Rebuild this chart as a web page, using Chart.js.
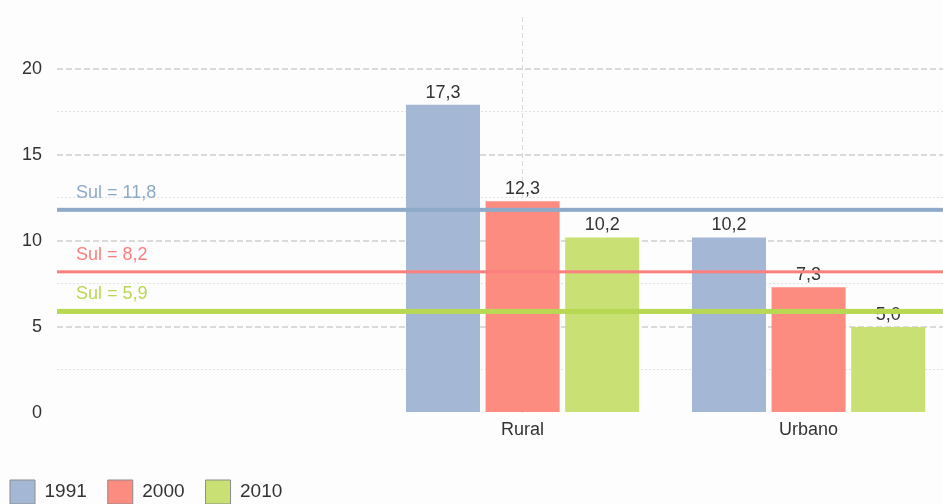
<!DOCTYPE html>
<html lang="pt">
<head>
    <meta charset="utf-8"/>
    <title>Rural / Urbano</title>
    <script src="https://cdn.jsdelivr.net/npm/chart.js"></script>
    <style>
        html, body { margin: 0; padding: 0; background: #fdfdfd; overflow: hidden; }
        #wrap { width: 943px; height: 504px; overflow: hidden; }
        canvas { display: block; }
    </style>
</head>
<body>
<div id="wrap"><canvas id="myChart" width="943" height="514"></canvas></div>
<script>
    // data
    var categories = ['Rural', 'Urbano'];
    var years = ['1991', '2000', '2010'];
    var values1991 = [17.9, 10.2];
    var values2000 = [12.3, 7.3];
    var values2010 = [10.2, 5.0];
    // the texts printed above the bars
    var labels1991 = ['17,3', '10,2'];
    var labels2000 = ['12,3', '7,3'];
    var labels2010 = ['10,2', '5,0'];
    // reference lines
    var refValues = [11.8, 8.2, 5.9];
    var refLabels = ['Sul = 11,8', 'Sul = 8,2', 'Sul = 5,9'];
    var yTicks = [0, 2.5, 5, 7.5, 10, 12.5, 15, 17.5, 20];

    var seriesValues = [values1991, values2000, values2010];
    var seriesLabels = [labels1991, labels2000, labels2010];
    var barColors = ['#a4b8d6', '#fc8b80', '#c8e074'];
    var lineColors = ['#8eaac8', '#fc7f7f', '#b8d854'];
    var lineWidths = [4, 3, 5];

    Chart.defaults.font.family = '"Liberation Sans", Arial, sans-serif';
    Chart.defaults.color = '#333';

    var datasets = years.map(function (y, s) {
        return {
            label: y,
            data: categories.map(function (c, i) { return {x: i + 1, y: seriesValues[s][i]}; }),
            backgroundColor: barColors[s],
            borderWidth: 0,
            categoryPercentage: 0.835,
            barPercentage: 0.93
        };
    });

    var valueLabels = {
        id: 'valueLabels',
        afterDatasetsDraw: function (chart) {
            var ctx = chart.ctx;
            ctx.save();
            ctx.font = '18px "Liberation Sans", Arial, sans-serif';
            ctx.fillStyle = '#333';
            ctx.textAlign = 'center';
            ctx.textBaseline = 'middle';
            chart.data.datasets.forEach(function (ds, s) {
                chart.getDatasetMeta(s).data.forEach(function (bar, i) {
                    ctx.fillText(seriesLabels[s][i], bar.x, bar.y - 12);
                });
            });
            ctx.restore();
        }
    };

    var refLines = {
        id: 'refLines',
        afterDatasetsDraw: function (chart) {
            var ctx = chart.ctx, area = chart.chartArea, yScale = chart.scales.y;
            ctx.save();
            ctx.font = '18px "Liberation Sans", Arial, sans-serif';
            ctx.textAlign = 'left';
            ctx.textBaseline = 'middle';
            refValues.forEach(function (v, i) {
                var py = yScale.getPixelForValue(v);
                ctx.fillStyle = lineColors[i];
                ctx.fillRect(area.left, py - lineWidths[i] / 2, area.right - area.left, lineWidths[i]);
                ctx.fillText(refLabels[i], area.left + 19, py - 17);
            });
            ctx.restore();
        }
    };

    var mychart = new Chart(document.getElementById('myChart'), {
        type: 'bar',
        data: {datasets: datasets},
        plugins: [valueLabels, refLines],
        options: {
            responsive: false,
            animation: false,
            layout: {padding: {top: 17, left: -11, right: 0, bottom: 0}},
            plugins: {
                tooltip: {enabled: false},
                legend: {
                    position: 'bottom',
                    align: 'start',
                    labels: {
                        boxWidth: 25,
                        boxHeight: 24,
                        padding: 21,
                        color: '#333',
                        font: {size: 19},
                        generateLabels: function (chart) {
                            return Chart.defaults.plugins.legend.labels.generateLabels(chart).map(function (l) {
                                l.strokeStyle = '#8c8c8c';
                                l.lineWidth = 1;
                                return l;
                            });
                        }
                    }
                }
            },
            scales: {
                x: {
                    type: 'linear',
                    min: -0.628,
                    max: 2.47,
                    offset: false,
                    afterBuildTicks: function (axis) {
                        axis.ticks = categories.map(function (c, i) { return {value: i + 1}; });
                    },
                    afterFit: function (axis) { axis.height = 46; },
                    ticks: {
                        callback: function (v) { return categories[v - 1]; },
                        padding: 6,
                        color: '#333',
                        font: {size: 18},
                        autoSkip: false,
                        maxRotation: 0
                    },
                    grid: {
                        offset: false,
                        drawTicks: false,
                        lineWidth: 1,
                        color: function (c) { return c.index === 0 ? '#dadada' : 'rgba(0,0,0,0)'; }
                    },
                    border: {display: false, dash: [5, 3]}
                },
                y: {
                    min: 0,
                    max: 23,
                    afterBuildTicks: function (axis) {
                        axis.ticks = yTicks.map(function (v) { return {value: v}; });
                    },
                    afterFit: function (axis) {
                        axis.width = 68;
                        axis.paddingTop = 0;
                        axis.paddingBottom = 0;
                    },
                    ticks: {
                        callback: function (v) { return v % 5 === 0 ? String(v) : ''; },
                        padding: 15,
                        color: '#333',
                        font: {size: 18}
                    },
                    grid: {
                        drawTicks: false,
                        color: function (c) {
                            var v = c.tick.value;
                            if (v === 0) return 'rgba(0,0,0,0)';
                            return v % 5 === 0 ? '#dadada' : '#e2e2e2';
                        },
                        lineWidth: function (c) { return c.tick.value % 5 === 0 ? 2 : 1; }
                    },
                    border: {
                        display: false,
                        dash: function (c) { return c.tick.value % 5 === 0 ? [6, 3] : [2, 2]; }
                    }
                }
            }
        }
    });
</script>
</body>
</html>
